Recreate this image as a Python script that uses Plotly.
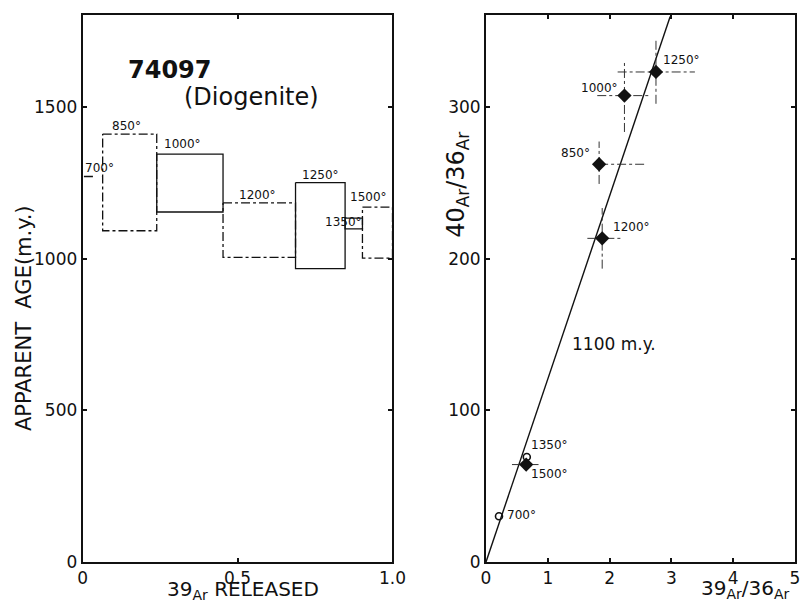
import plotly.graph_objects as go

# ---------------- data: left panel (age spectrum) ----------------
step_labels = ["700°", "850°", "1000°", "1200°", "1250°", "1350°", "1500°"]
step_start = [0.004, 0.0645, 0.239, 0.453, 0.687, 0.847, 0.903]
step_end = [0.0645, 0.239, 0.453, 0.687, 0.847, 0.903, 1.0]
age_high = [1272, 1412, 1346, 1185, 1252, 1135, 1171]
age_low = [1272, 1093, 1155, 1005, 968, 1099, 1003]

# ---------------- data: right panel (isochron) ----------------
iso_labels = ["700°", "850°", "1000°", "1200°", "1250°", "1350°", "1500°"]
r39_36 = [0.21, 1.83, 2.24, 1.88, 2.75, 0.66, 0.65]
r40_36 = [30.2, 262.5, 307.8, 213.6, 323.4, 69.3, 64.3]
x_err_minus = [0, 0, 0.44, 0.24, 0.62, 0, 0.23]
x_err_plus = [0, 0.74, 0.40, 0.32, 0.63, 0, 0.20]
y_err_minus = [0, 13, 24, 20, 21, 0, 4]
y_err_plus = [0, 15, 23, 20, 22, 0, 4]
open_point = [True, False, False, False, False, True, False]
isochron_x = [0, 2.98]
isochron_y = [0, 360]
isochron_age = "1100 m.y."

FONT = "DejaVu Sans"
INK = "#111111"

fig = go.Figure()

# ---- left panel boxes ----
step_dash = ["dash", "dashdot", "solid", "dashdot", "solid", "solid", "dashdot"]
order = sorted(range(len(step_labels)), key=lambda i: step_dash[i] == "solid")
for i in order:
    s, e, h, l = step_start[i], step_end[i], age_high[i], age_low[i]
    if h == l:
        xs, ys = [s, e], [h, h]
    else:
        xs, ys = [s, e, e, s, s], [h, h, l, l, h]
    fig.add_trace(go.Scatter(x=xs, y=ys, mode="lines", xaxis="x", yaxis="y",
                             line=dict(color=INK, width=1.3, dash=step_dash[i]),
                             hoverinfo="skip"))

# ---- right panel: isochron line ----
fig.add_trace(go.Scatter(x=isochron_x, y=isochron_y, mode="lines", xaxis="x2", yaxis="y2",
                         line=dict(color=INK, width=1.4), hoverinfo="skip"))

# ---- right panel: error bars ----
for i in range(len(iso_labels)):
    x0, y0 = r39_36[i], r40_36[i]
    dash = "solid" if iso_labels[i] == "1500°" else "dashdot"
    if x_err_minus[i] or x_err_plus[i]:
        fig.add_trace(go.Scatter(x=[x0 - x_err_minus[i], x0 + x_err_plus[i]], y=[y0, y0],
                                 mode="lines", xaxis="x2", yaxis="y2",
                                 line=dict(color="#333333", width=1, dash=dash),
                                 hoverinfo="skip"))
    if y_err_minus[i] or y_err_plus[i]:
        fig.add_trace(go.Scatter(x=[x0, x0], y=[y0 - y_err_minus[i], y0 + y_err_plus[i]],
                                 mode="lines", xaxis="x2", yaxis="y2",
                                 line=dict(color="#333333", width=1, dash=dash),
                                 hoverinfo="skip"))

# ---- right panel: points ----
fx = [x for x, o in zip(r39_36, open_point) if not o]
fy = [y for y, o in zip(r40_36, open_point) if not o]
ox = [x for x, o in zip(r39_36, open_point) if o]
oy = [y for y, o in zip(r40_36, open_point) if o]
fig.add_trace(go.Scatter(x=fx, y=fy, mode="markers", xaxis="x2", yaxis="y2",
                         marker=dict(symbol="diamond", size=11, color=INK), hoverinfo="skip"))
fig.add_trace(go.Scatter(x=ox, y=oy, mode="markers", xaxis="x2", yaxis="y2",
                         marker=dict(symbol="circle-open", size=7, color=INK,
                                     line=dict(width=1.6, color=INK)), hoverinfo="skip"))

axis_common = dict(showline=True, linecolor=INK, linewidth=2, mirror="ticks",
                   ticks="inside", ticklen=4, tickcolor=INK, tickwidth=1.5,
                   showgrid=False, zeroline=False, automargin=False,
                   tickfont=dict(family=FONT, size=17, color=INK), fixedrange=True)

fig.update_layout(
    width=802, height=603,
    margin=dict(l=0, r=0, t=15, b=41, autoexpand=False),
    paper_bgcolor="white", plot_bgcolor="white",
    showlegend=False,
    xaxis=dict(domain=[0.1031, 0.4894], range=[0, 1], anchor="y",
               tickvals=[0, 0.5, 1.0], ticktext=["0", "0.5", "1.0"], **axis_common),
    yaxis=dict(domain=[0, 1], range=[0, 1805], anchor="x",
               tickvals=[0, 500, 1000, 1500], **axis_common),
    xaxis2=dict(domain=[0.606, 0.9913], range=[0, 5], anchor="y2",
                tickvals=[0, 1, 2, 3, 4, 5], **axis_common),
    yaxis2=dict(domain=[0, 1], range=[0, 361], anchor="x2",
                tickvals=[0, 100, 200, 300], **axis_common),
)

ann = []
# left panel step labels
left_label_pos = [(0.053, 1300), (0.14, 1440), (0.323, 1380), (0.565, 1212),
                  (0.768, 1278), (0.843, 1122), (0.923, 1206)]
for lab, (x, y) in zip(step_labels, left_label_pos):
    ann.append(dict(x=x, y=y, xref="x", yref="y", text=lab, showarrow=False,
                    font=dict(family=FONT, size=12, color=INK)))
ann.append(dict(x=0.281, y=1623, xref="x", yref="y", text="<b>74097</b>", showarrow=False,
                font=dict(family=FONT, size=24, color=INK)))
ann.append(dict(x=0.546, y=1535, xref="x", yref="y", text="(Diogenite)", showarrow=False,
                font=dict(family=FONT, size=24, color=INK)))

# right panel labels
right_label_pos = [(0.57, 31), (1.44, 270), (1.84, 313), (2.35, 221),
                   (3.16, 331), (1.02, 77), (1.02, 58)]
for lab, (x, y) in zip(iso_labels, right_label_pos):
    ann.append(dict(x=x, y=y, xref="x2", yref="y2", text=lab, showarrow=False,
                    font=dict(family=FONT, size=12, color=INK)))
ann.append(dict(x=2.07, y=144, xref="x2", yref="y2", text=isochron_age, showarrow=False,
                font=dict(family=FONT, size=17, color=INK)))

# axis titles
title_common = dict(xref="paper", yref="paper", showarrow=False,
                    xanchor="center", yanchor="middle")
ann.append(dict(x=0.030, y=0.446, text="APPARENT  AGE(m.y.)", textangle=-90,
                font=dict(family=FONT, size=21, color=INK), **title_common))
ann.append(dict(x=0.303, y=-0.051, text="39<sub>Ar</sub> RELEASED",
                font=dict(family=FONT, size=20, color=INK), **title_common))
ann.append(dict(x=0.570, y=0.690, text="40<sub>Ar</sub>/36<sub>Ar</sub>", textangle=-90,
                font=dict(family=FONT, size=24, color=INK), **title_common))
ann.append(dict(x=0.929, y=-0.050, text="39<sub>Ar</sub>/36<sub>Ar</sub>",
                font=dict(family=FONT, size=20, color=INK), **title_common))

fig.update_layout(annotations=ann)
fig.write_html("out.html", config={"displayModeBar": False},
               post_script="document.body.style.margin='0';document.body.style.padding='0';")
